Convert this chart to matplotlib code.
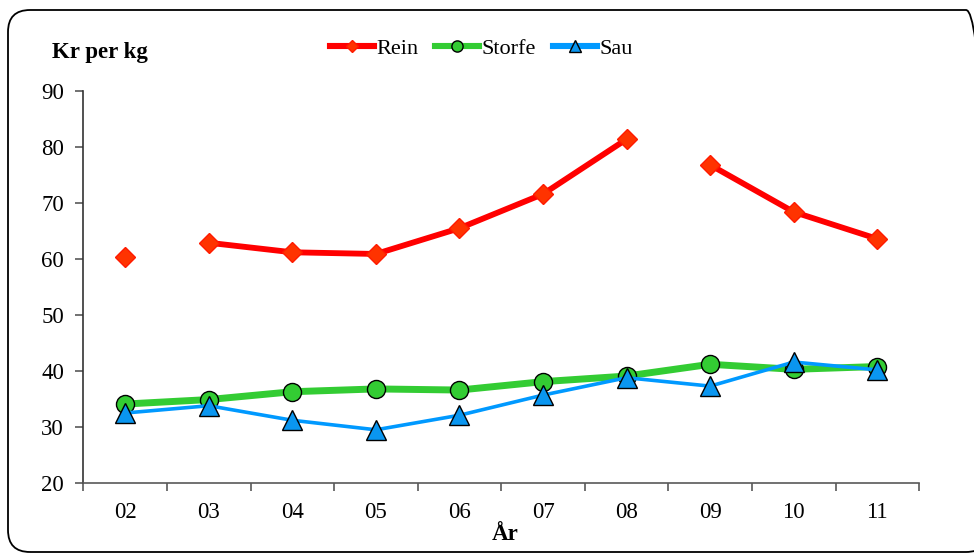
import numpy as np
import matplotlib
matplotlib.use('Agg')  # headless
import matplotlib.pyplot as plt
from matplotlib.patches import FancyBboxPatch

# data
years = ["02", "03", "04", "05", "06", "07", "08", "09", "10", "11"]
rein = [60.4, 62.9, 61.2, 60.9, 65.5, 71.6, 81.4, 76.8, 68.4, 63.6]
storfe = [34.1, 34.9, 36.3, 36.8, 36.6, 38.1, 39.1, 41.2, 40.3, 40.8]
sau = [32.5, 33.8, 31.2, 29.5, 32.1, 35.7, 38.8, 37.3, 41.6, 40.2]
# the Rein line is not drawn across these positions (line breaks before index)
rein_breaks = [1, 7]

plt.rcParams['font.family'] = ['Liberation Serif', 'DejaVu Serif']

fig = plt.figure(figsize=(9.74, 5.56), dpi=100)
ax = fig.add_axes([0.0857, 0.1313, 0.8579, 0.7050])

x = np.arange(len(years))

# Rein, split into segments
edges = [0] + rein_breaks + [len(rein)]
for i in range(len(edges) - 1):
    a, b = edges[i], edges[i + 1]
    ax.plot(x[a:b], rein[a:b], color='#ff0000', lw=4.2, marker='D', ms=10,
            mfc='#ff3300', mec='#ff1a00', mew=1.0,
            label='Rein' if i == 0 else None, zorder=3)

ax.plot(x, storfe, color='#33cc33', lw=5.0, marker='o', ms=13,
        mfc='#33cc33', mec='black', mew=1.0, label='Storfe', zorder=4)
ax.plot(x, sau, color='#0099ff', lw=2.6, marker='^', ms=14,
        mfc='#0a96f0', mec='black', mew=1.0, label='Sau', zorder=5)

ax.set_xlim(-0.5, len(years) - 0.5)
ax.set_ylim(20, 90)
ax.set_yticks(np.arange(20, 91, 10))
ax.set_xticks(x)
ax.set_xticklabels(years)
ax.set_xticks(np.arange(-0.5, len(years)), minor=True)

for s in ['top', 'right']:
    ax.spines[s].set_visible(False)
ax.spines['left'].set_color('#333333')
ax.spines['bottom'].set_color('#595959')
for s in ['left', 'bottom']:
    ax.spines[s].set_linewidth(1.2)

ax.tick_params(axis='x', which='major', length=0, pad=14, labelsize=16.5)
ax.tick_params(axis='x', which='minor', direction='out', length=6,
               width=1.2, color='#595959')
ax.tick_params(axis='y', direction='out', length=6, width=1.2,
               color='#595959', pad=8, labelsize=16.5)

fig.text(0.053, 0.905, 'Kr per kg', fontsize=16.5, fontweight='bold',
         va='center', ha='left')
fig.text(0.519, 0.038, 'År', fontsize=16.5, fontweight='bold',
         va='center', ha='center')

leg = ax.legend(loc='center', bbox_to_anchor=(0.494, 0.913),
                bbox_transform=fig.transFigure, ncol=3, frameon=False,
                fontsize=16, handlelength=2.0, handletextpad=0.1,
                columnspacing=0.75, borderaxespad=0, markerscale=0.62)
for h in leg.get_lines():
    h.set_linewidth(4.4)

# rounded chart-area border, drawn in inches so the corners stay round;
# its right edge runs just past the image, as in the reference
border = FancyBboxPatch((0.08, 0.04), 9.80, 5.42,
                        boxstyle='round,pad=0,rounding_size=0.22',
                        transform=fig.dpi_scale_trans, fill=False,
                        edgecolor='black', lw=1.3)
fig.patches.append(border)

fig.savefig('out.png', dpi=100)
